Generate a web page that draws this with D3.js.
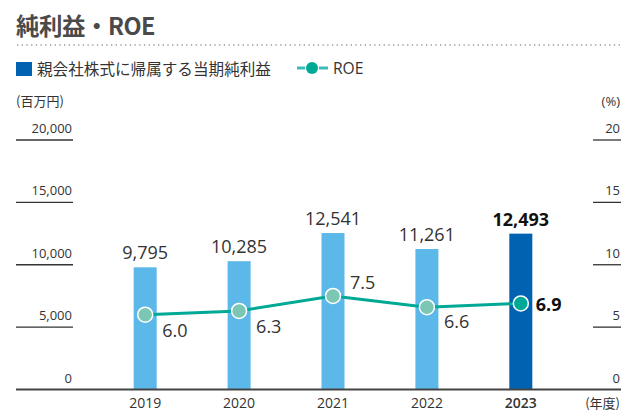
<!DOCTYPE html>
<html>
<head>
<meta charset="utf-8">
<script src="https://cdn.jsdelivr.net/npm/d3@7"></script>
<style>
  body { margin: 0; background: #fff; }
  text { font-family: "Open Sans", "Noto Sans CJK JP", sans-serif; }
</style>
</head>
<body>
<div class="canvas"></div>
<script>
// data
const years = ['2019', '2020', '2021', '2022', '2023'];
const netIncome = [9795, 10285, 12541, 11261, 12493];
const roe = [6.0, 6.3, 7.5, 6.6, 6.9];
const leftTicks = [0, 5000, 10000, 15000, 20000];
const rightTicks = [0, 5, 10, 15, 20];

const W = 621, H = 415;
const svg = d3.select('.canvas')
    .append('svg')
    .attr('width', W)
    .attr('height', H);

// title + dotted rule
svg.append('text')
    .attr('x', 16).attr('y', 35)
    .attr('font-size', 23.5).attr('font-weight', 700)
    .attr('fill', '#4a4a4a')
    .attr('letter-spacing', -0.5)
    .style('font-family', '"Noto Sans CJK JP", sans-serif')
    .text('純利益・ROE');
svg.append('line')
    .attr('x1', 17).attr('x2', W).attr('y1', 45).attr('y2', 45)
    .attr('stroke', '#999').attr('stroke-width', 1.3)
    .attr('stroke-dasharray', '1.3,3.4');

// legend
svg.append('rect').attr('x', 16).attr('y', 62).attr('width', 16).attr('height', 14).attr('fill', '#0062b1');
svg.append('text').attr('x', 37).attr('y', 75).attr('font-size', 15.6).attr('fill', '#333')
    .style('font-family', '"Noto Sans CJK JP", sans-serif')
    .text('親会社株式に帰属する当期純利益');
svg.append('line').attr('x1', 297).attr('x2', 305).attr('y1', 68).attr('y2', 68)
    .attr('stroke', '#3cbcb8').attr('stroke-width', 3);
svg.append('line').attr('x1', 319).attr('x2', 328).attr('y1', 68).attr('y2', 68)
    .attr('stroke', '#3cbcb8').attr('stroke-width', 3);
svg.append('circle').attr('cx', 312).attr('cy', 68).attr('r', 6).attr('fill', '#00a896');
svg.append('text').attr('x', 333).attr('y', 74).attr('font-size', 15.6).attr('fill', '#333').text('ROE');

// scales
const x = d3.scaleBand()
    .domain(years)
    .range([98, 568])
    .paddingInner(0.755)
    .paddingOuter(0.38);
const yL = d3.scaleLinear().domain([0, 20000]).range([389.5, 140]);
const yR = d3.scaleLinear().domain([0, 20]).range([389.5, 140]);

// units
svg.append('text').attr('x', 16).attr('y', 106).attr('font-size', 13).attr('fill', '#333')
    .style('font-family', '"Noto Sans CJK JP", sans-serif').text('(百万円)');
svg.append('text').attr('x', 620).attr('y', 106).attr('font-size', 13).attr('fill', '#333')
    .attr('text-anchor', 'end').text('(%)');

// left ticks
const lt = svg.append('g').selectAll('g').data(leftTicks.filter(d => d > 0)).enter().append('g');
lt.append('line').attr('x1', 16).attr('x2', 73).attr('y1', d => yL(d)).attr('y2', d => yL(d))
    .attr('stroke', '#333').attr('stroke-width', 1.3);
svg.append('g').selectAll('text').data(leftTicks).enter().append('text')
    .attr('x', 72).attr('y', d => yL(d) - 7)
    .attr('text-anchor', 'end').attr('font-size', 13).attr('fill', '#333')
    .text(d => d3.format(',')(d));

// right ticks
const rt = svg.append('g').selectAll('g').data(rightTicks.filter(d => d > 0)).enter().append('g');
rt.append('line').attr('x1', 593).attr('x2', W).attr('y1', d => yR(d)).attr('y2', d => yR(d))
    .attr('stroke', '#333').attr('stroke-width', 1.3);
svg.append('g').selectAll('text').data(rightTicks).enter().append('text')
    .attr('x', 620).attr('y', d => yR(d) - 7)
    .attr('text-anchor', 'end').attr('font-size', 13).attr('fill', '#333')
    .text(d => d);

// bars
const last = years.length - 1;
svg.append('g').selectAll('rect').data(netIncome).enter().append('rect')
    .attr('x', (d, i) => x(years[i]))
    .attr('width', x.bandwidth())
    .attr('y', d => yL(d))
    .attr('height', d => yL(0) - yL(d))
    .attr('fill', (d, i) => i === last ? '#0062b1' : '#5cb8e9');

// baseline
svg.append('line').attr('x1', 16).attr('x2', W).attr('y1', 389.5).attr('y2', 389.5)
    .attr('stroke', '#444').attr('stroke-width', 2);

// bar labels
svg.append('g').selectAll('text').data(netIncome).enter().append('text')
    .attr('x', (d, i) => x(years[i]) + x.bandwidth() / 2)
    .attr('y', d => yL(d) - 8)
    .attr('text-anchor', 'middle').attr('font-size', 18)
    .attr('font-weight', (d, i) => i === last ? 700 : 400)
    .attr('fill', (d, i) => i === last ? '#111' : '#333')
    .text(d => d3.format(',')(d));

// ROE line
const cx = i => x(years[i]) + x.bandwidth() / 2;
const line = d3.line().x((d, i) => cx(i)).y(d => yR(d));
svg.append('path').datum(roe).attr('d', line)
    .attr('fill', 'none').attr('stroke', '#00a896').attr('stroke-width', 3);
svg.append('g').selectAll('circle').data(roe).enter().append('circle')
    .attr('cx', (d, i) => cx(i)).attr('cy', d => yR(d)).attr('r', 7.5)
    .attr('fill', (d, i) => i === last ? '#00a896' : '#7cc6b4')
    .attr('stroke', '#fff').attr('stroke-width', 1.5);

// ROE labels: below-right, except 2021 above-right, 2023 right
const dy = [22, 22, -7, 21, 8];
const dx = [17, 17, 17, 17, 15];
svg.append('g').selectAll('text').data(roe).enter().append('text')
    .attr('x', (d, i) => cx(i) + dx[i])
    .attr('y', (d, i) => yR(d) + dy[i])
    .attr('font-size', 18)
    .attr('font-weight', (d, i) => i === last ? 700 : 400)
    .attr('fill', (d, i) => i === last ? '#111' : '#333')
    .text(d => d.toFixed(1));

// year axis
svg.append('g').selectAll('text').data(years).enter().append('text')
    .attr('x', d => x(d) + x.bandwidth() / 2).attr('y', 408)
    .attr('text-anchor', 'middle').attr('font-size', 14)
    .attr('font-weight', (d, i) => i === last ? 600 : 400)
    .attr('fill', '#333').text(d => d);
svg.append('text').attr('x', 620).attr('y', 408).attr('text-anchor', 'end')
    .attr('font-size', 13).attr('fill', '#333')
    .style('font-family', '"Noto Sans CJK JP", sans-serif').text('(年度)');
</script>
</body>
</html>
